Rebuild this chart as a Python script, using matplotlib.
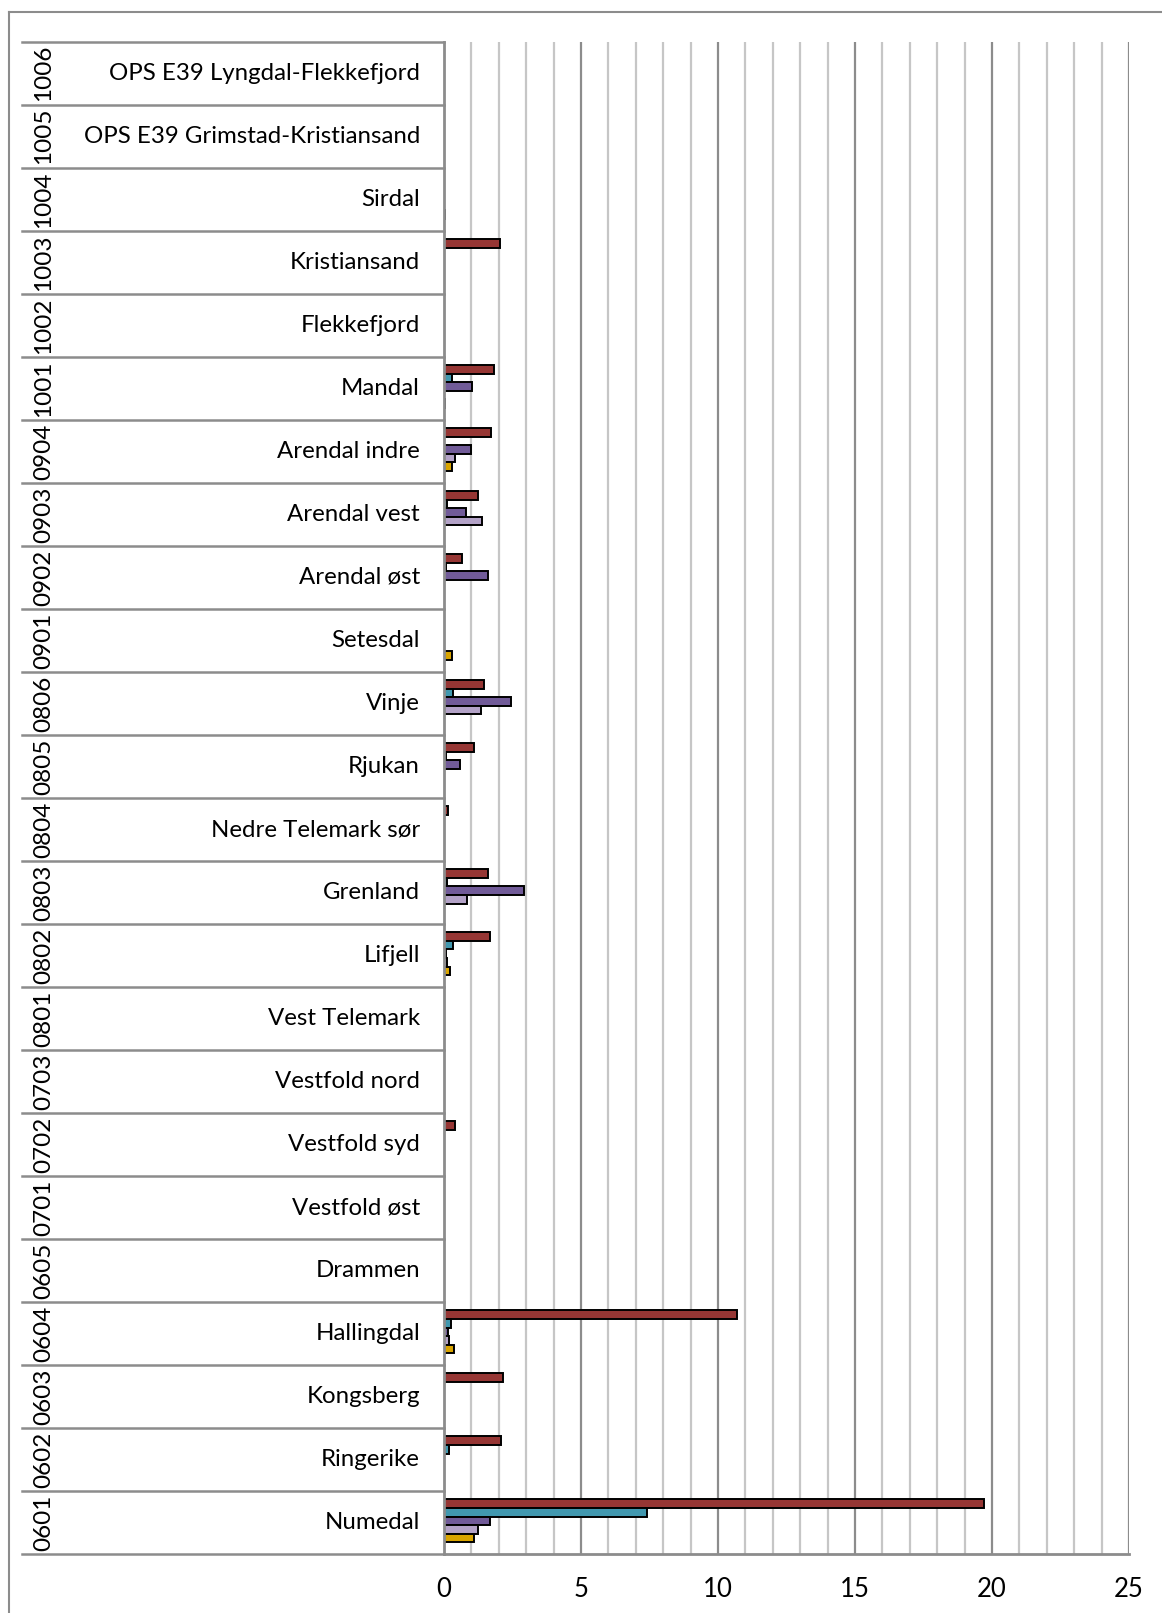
import matplotlib
matplotlib.use('Agg')
import matplotlib.pyplot as plt
import matplotlib.transforms as mtransforms
from matplotlib.lines import Line2D
import numpy as np

plt.rcParams['font.family'] = ['Lato', 'DejaVu Sans']

# Kategorier, nederst (0601) til øverst (1006)
codes = ['0601', '0602', '0603', '0604', '0605', '0701', '0702', '0703',
         '0801', '0802', '0803', '0804', '0805', '0806', '0901', '0902',
         '0903', '0904', '1001', '1002', '1003', '1004', '1005', '1006']
names = ['Numedal', 'Ringerike', 'Kongsberg', 'Hallingdal', 'Drammen',
         'Vestfold øst', 'Vestfold syd', 'Vestfold nord', 'Vest Telemark',
         'Lifjell', 'Grenland', 'Nedre Telemark sør', 'Rjukan', 'Vinje',
         'Setesdal', 'Arendal øst', 'Arendal vest', 'Arendal indre', 'Mandal',
         'Flekkefjord', 'Kristiansand', 'Sirdal',
         'OPS E39 Grimstad-Kristiansand', 'OPS E39 Lyngdal-Flekkefjord']

# Serier (rekkefølge ovenfra i hver gruppe)
serie_rod = [19.7, 2.08, 2.14, 10.68, 0, 0, 0.39, 0, 0, 1.67, 1.60, 0.13,
             1.09, 1.46, 0, 0.67, 1.25, 1.70, 1.84, 0, 2.06, 0, 0, 0]
serie_teal = [7.42, 0.20, 0, 0.26, 0, 0, 0, 0, 0, 0.33, 0.12, 0,
              0.08, 0.34, 0, 0.08, 0.11, 0, 0.30, 0, 0, 0, 0, 0]
serie_lilla = [1.69, 0, 0, 0.15, 0, 0, 0, 0, 0, 0.06, 2.91, 0,
               0.57, 2.46, 0, 1.61, 0.80, 0.97, 1.04, 0, 0, 0, 0, 0]
serie_lys = [1.25, 0, 0, 0.17, 0, 0, 0, 0, 0, 0.12, 0.83, 0,
             0, 1.36, 0, 0, 1.40, 0.40, 0, 0, 0, 0, 0, 0]
serie_oransje = [1.10, 0, 0, 0.37, 0, 0, 0, 0, 0, 0.22, 0, 0,
                 0, 0, 0.30, 0, 0, 0.29, 0.02, 0, 0, 0.02, 0, 0]

series = [serie_rod, serie_teal, serie_lilla, serie_lys, serie_oransje]
farger = ['#963634', '#4198AF', '#715B98', '#B3A2C7', '#D9A400']

W, H = 1162, 1613
fig = plt.figure(figsize=(W / 100, H / 100), dpi=100)
x0, x1 = 444, 1129
ytop, ybot = 41.7, 1554.3
ax = fig.add_axes([x0 / W, 1 - ybot / H, (x1 - x0) / W, (ybot - ytop) / H])

n = len(codes)
y = np.arange(n)
h = 0.136
for k, (vals, farge) in enumerate(zip(series, farger)):
    vals = np.array(vals, dtype=float)
    m = vals > 0
    ax.barh(y[m] + 0.03 + (2 - k) * h, vals[m], height=h, color=farge,
            edgecolor='black', linewidth=1.4, zorder=3)

ax.set_xlim(0, 25)
ax.set_ylim(-0.5, n - 0.5)

# rutenett
for v in range(1, 26):
    if v % 5 == 0:
        ax.axvline(v, color='#8c8c8c', lw=1.6, zorder=1)
    else:
        ax.axvline(v, color='#c6c6c6', lw=1.6, zorder=1)

ax.set_xticks([0, 5, 10, 15, 20, 25])
ax.tick_params(axis='x', length=0, pad=16, labelsize=18.5)
ax.set_yticks([])
for s in ['top', 'right']:
    ax.spines[s].set_visible(False)
for s in ['left', 'bottom']:
    ax.spines[s].set_color('#8c8c8c')
    ax.spines[s].set_linewidth(2)
    ax.spines[s].set_zorder(4)

# kategoritabell til venstre
trans = mtransforms.blended_transform_factory(ax.transAxes, ax.transData)
xl = (22 - x0) / (x1 - x0)
for b in np.arange(-0.5, n, 1.0):
    ax.plot([xl, 0], [b, b], color='#8c8c8c', lw=1.8, transform=trans,
            clip_on=False)
for i in range(n):
    ax.text((44 - x0) / (x1 - x0), i, codes[i], rotation=90, ha='center',
            va='center', fontsize=17.5, transform=trans)
    ax.text((420 - x0) / (x1 - x0), i, names[i], ha='right', va='center',
            fontsize=17.3, transform=trans)

# ramme rundt diagramområdet
fig.add_artist(Line2D([9 / W, 9 / W], [0, 1 - 12 / H], color='#8c8c8c', lw=1.5))
fig.add_artist(Line2D([9 / W, 1], [1 - 12 / H, 1 - 12 / H], color='#8c8c8c', lw=1.5))

fig.savefig('out.png', dpi=100)
